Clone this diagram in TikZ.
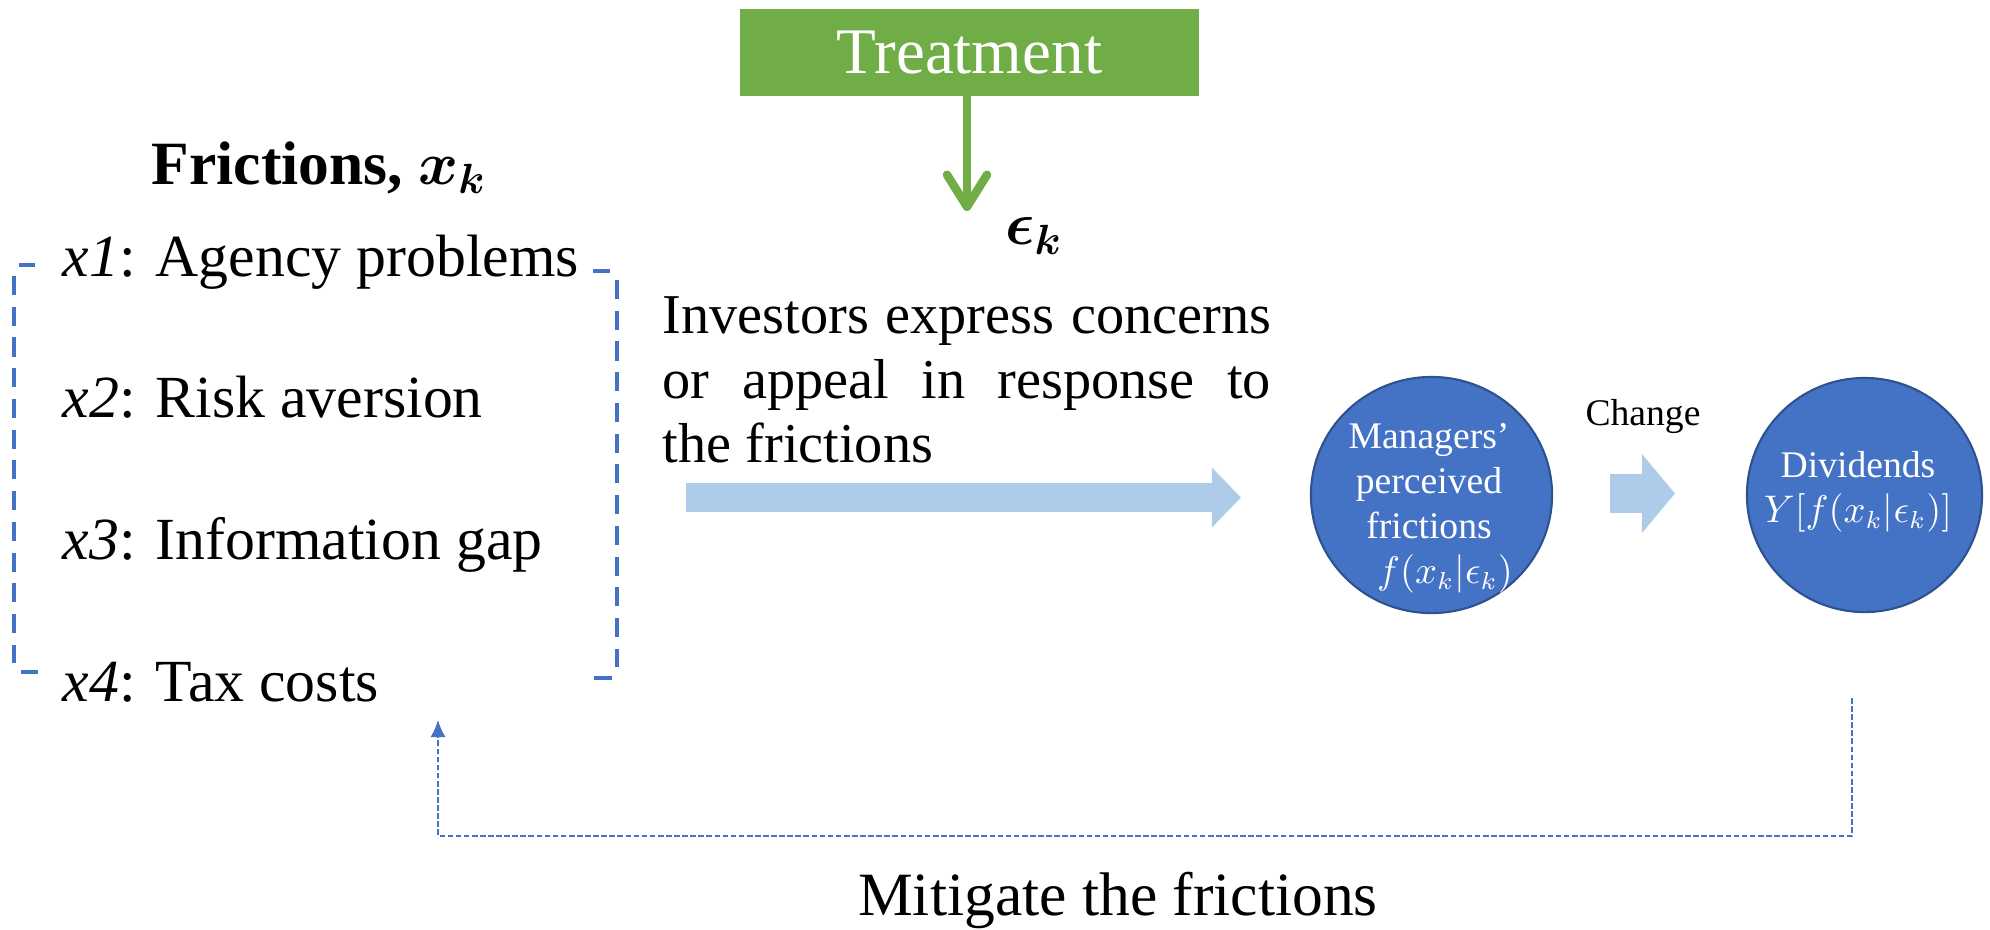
\documentclass[tikz,border=0pt]{standalone}
\usepackage{fontspec}
\setmainfont{Liberation Serif}
\usepackage{bm}
\usetikzlibrary{calc}
\usetikzlibrary{arrows.meta}
\usetikzlibrary{shapes.geometric}

\definecolor{treatgreen}{HTML}{70AD47}
\definecolor{accblue}{HTML}{4472C4}
\definecolor{accdark}{HTML}{2F528F}
\definecolor{paleblue}{HTML}{AECCEA}

\begin{document}
\begin{tikzpicture}[
        x=0.01cm, y=-0.01cm,
        every node/.style={inner sep=0pt},
        >=Latex,
        treatbox/.style={fill=treatgreen, text=white, minimum width=4.59cm, minimum height=0.87cm, font=\fontsize{18.5}{21}\selectfont},
        item/.style={anchor=base west, font=\fontsize{17}{20}\selectfont},
        bracket/.style={draw=accblue, line width=1.15pt, dash pattern=on 5.41pt off 3.33pt},
        brackettick/.style={draw=accblue, line width=1.15pt},
        bubble/.style={ellipse, fill=accblue, draw=accdark, line width=0.6pt},
        bubbletext/.style={text=white, align=center, font=\fontsize{10.7}{12.8}\selectfont},
        fbline/.style={draw=accblue, line width=0.45pt, dash pattern=on 1.6pt off 0.7pt}
    ]
        \useasboundingbox (0,0) rectangle (1990,929);

        % treatment and its shock
        \node[treatbox] (treat) at (969.5,52.5) {Treatment};
        \coordinate (epsarr) at (967,211);
        \draw[treatgreen, line width=0.085cm, line cap=round,
            -{Straight Barb[length=0.32cm, width=0.4cm, line cap=round, line join=round]}]
            (treat.south -| epsarr) -- (epsarr);
        \node[font=\fontsize{17}{20}\selectfont] (eps) at (1034,236) {$\bm{\epsilon_k}$};

        % frictions list
        \node[anchor=base west, font=\fontsize{17.5}{20}\selectfont] (fric) at (151,184) {\textbf{Frictions,} $\bm{x_k}$};
        \node[item] (x1) at (62,276) {\textit{x1}: Agency problems};
        \node[item] (x2) at (62,417) {\textit{x2}: Risk aversion};
        \node[item] (x3) at (62,559) {\textit{x3}: Information gap};
        \node[item] (x4) at (62,701) {\textit{x4}: Tax costs};
        % brackets round the list
        \draw[brackettick] (35,265) -- (19,265);
        \draw[bracket] (14,276) -- (14,663);
        \draw[brackettick] (21,672) -- (38,672);
        \draw[brackettick] (593,271) -- (610,271);
        \draw[bracket] (617,280) -- (617,667);
        \draw[brackettick] (594,678) -- (612,678);

        % investors
        \node[anchor=north west, text width=6.08cm, align=justify, font=\fontsize{16}{18.4}\selectfont] (invest) at (662,296)
            {Investors express concerns or appeal in response to\linebreak{} the frictions};
        \coordinate (bigtail) at (686,497.5);
        \coordinate (bighead) at (1241,497.5);
        \draw[paleblue, line width=0.29cm, -{Triangle[length=0.29cm, width=0.58cm]}] (bigtail) -- (bighead);

        % managers and dividends
        \node[bubble, minimum width=2.41cm, minimum height=2.36cm] (mgr) at (1431.5,495) {};
        \node[bubbletext] (mgrtext) at (1429,508) {Managers'\\perceived\\frictions\\\hspace*{0.32cm}$f(x_k|\epsilon_k)$};
        \node[anchor=base, font=\fontsize{10.7}{12}\selectfont] (change) at (1643,425) {Change};
        \coordinate (smtail) at (1610,493.5);
        \coordinate (smhead) at (1675,493.5);
        \draw[paleblue, line width=0.39cm, -{Triangle[length=0.33cm, width=0.77cm]}] (smtail) -- (smhead);
        \node[bubble, minimum width=2.35cm, minimum height=2.34cm] (divd) at (1864.5,495) {};
        \node[bubbletext] (divtext) at (1858,492) {Dividends\\$Y[f(x_k|\epsilon_k)]$};

        % feedback loop
        \coordinate (fbstart) at (1852,698);
        \coordinate (fbend) at (438,720);
        \draw[fbline, -{Latex[length=0.17cm, width=0.15cm]}] (fbstart) -- ++(0,138) -| (fbend);
        \node[anchor=base, font=\fontsize{17.5}{20}\selectfont] (mitig) at (1118,915) {Mitigate the frictions};
    \end{tikzpicture}
\end{document}
